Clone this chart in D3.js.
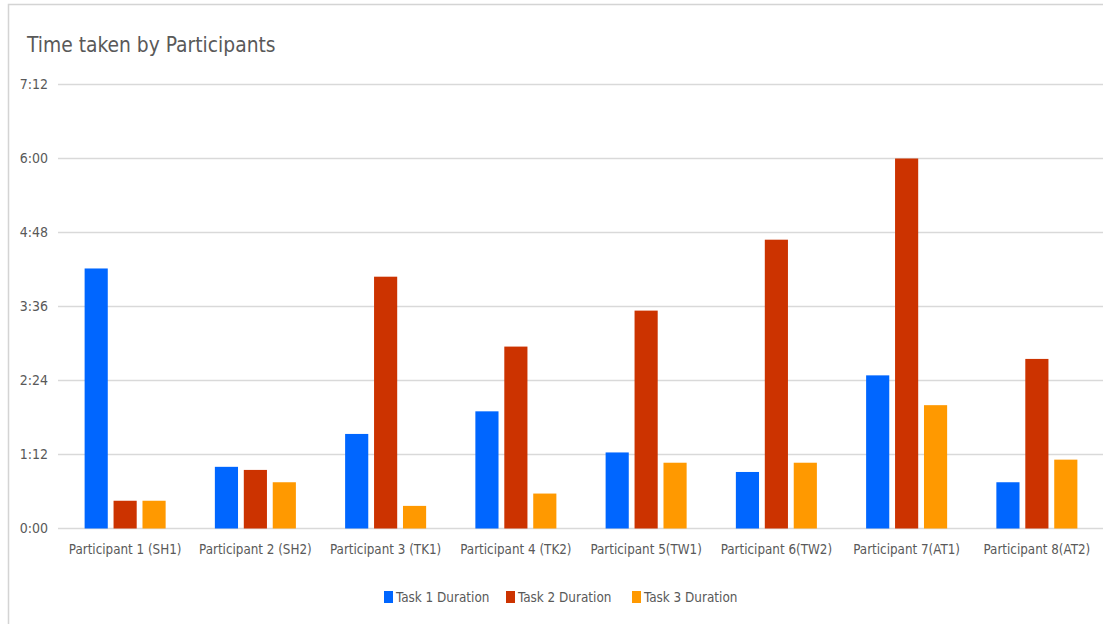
<!DOCTYPE html>
<html lang="en">
<head>
<meta charset="UTF-8" />
<title>Time taken by Participants</title>
<style>
  body { margin: 0; background: #fff; }
  svg { display: block; font-family: 'DejaVu Sans Condensed', 'DejaVu Sans', sans-serif; }
  .tick text { fill: #595959; }
  .grid line { stroke: #d9d9d9; stroke-width: 1.5; }
</style>
</head>
<body>
<svg id="chart" width="1103" height="624"></svg>
<script src="https://cdn.jsdelivr.net/npm/d3@7"></script>
<script>
// durations in seconds
const participants = ["Participant 1 (SH1)", "Participant 2 (SH2)", "Participant 3 (TK1)", "Participant 4 (TK2)",
  "Participant 5(TW1)", "Participant 6(TW2)", "Participant 7(AT1)", "Participant 8(AT2)"];
const tasks = ["Task 1 Duration", "Task 2 Duration", "Task 3 Duration"];
const task1 = [253, 60, 92, 114, 74, 55, 149, 45];
const task2 = [27, 57, 245, 177, 212, 281, 360, 165];
const task3 = [27, 45, 22, 34, 64, 64, 120, 67];
const yTicks = [0, 72, 144, 216, 288, 360, 432];
const colors = ["#0066ff", "#cc3300", "#ff9900"];

const series = [task1, task2, task3];
const data = participants.map((p, i) => ({ name: p, values: series.map(s => s[i]) }));

const svg = d3.select("#chart");
const W = 1103, H = 624;
const m = { left: 60, right: 1102, top: 84.5, bottom: 528.5 };

// chart frame (cut off on the right and bottom like the screenshot)
svg.append("rect")
  .attr("x", 8.5).attr("y", 4.5)
  .attr("width", W + 20).attr("height", H + 20)
  .attr("fill", "#fff").attr("stroke", "#d4d4d4").attr("stroke-width", 1.5);

const x0 = d3.scaleBand().domain(participants).range([m.left, m.right])
  .paddingInner(0.378).paddingOuter(0.189);
const x1 = d3.scaleBand().domain(d3.range(3)).range([0, x0.bandwidth()]).paddingInner(0.2);
const y = d3.scaleLinear().domain([0, 432]).range([m.bottom, m.top]);

const fmt = s => Math.floor(s / 60) + ":" + String(s % 60).padStart(2, "0");

// gridlines
svg.append("g").attr("class", "grid")
  .selectAll("line").data(yTicks).join("line")
  .attr("x1", 58).attr("x2", m.right + 2)
  .attr("y1", d => y(d)).attr("y2", d => y(d));

// y axis labels
const yAxis = svg.append("g")
  .attr("transform", `translate(${m.left - 12},0)`)
  .call(d3.axisLeft(y).tickValues(yTicks).tickFormat(fmt).tickSize(0).tickPadding(0));
yAxis.select(".domain").remove();
yAxis.selectAll("text").attr("font-size", 14).attr("font-family", "'DejaVu Sans Condensed', sans-serif");

// bars
const groups = svg.append("g").selectAll("g").data(data).join("g")
  .attr("transform", d => `translate(${x0(d.name)},0)`);
groups.selectAll("rect").data(d => d.values).join("rect")
  .attr("x", (d, i) => x1(i))
  .attr("width", x1.bandwidth())
  .attr("y", d => y(d))
  .attr("height", d => y(0) - y(d))
  .attr("fill", (d, i) => colors[i]);

// x axis labels
const xAxis = svg.append("g")
  .attr("transform", `translate(0,${m.bottom + 10})`)
  .call(d3.axisBottom(x0).tickSize(0).tickPadding(6));
xAxis.select(".domain").remove();
xAxis.selectAll("text").attr("font-size", 13.3).attr("font-family", "'DejaVu Sans Condensed', sans-serif");

// title
svg.append("text")
  .attr("x", 27).attr("y", 52)
  .attr("font-size", 20.8)
  .attr("fill", "#595959")
  .text("Time taken by Participants");

// legend
const legend = svg.append("g").attr("transform", "translate(384,591)");
const legendX = [0, 122, 248];
const item = legend.selectAll("g").data(tasks).join("g")
  .attr("transform", (d, i) => `translate(${legendX[i]},0)`);
item.append("rect").attr("width", 9).attr("height", 12).attr("fill", (d, i) => colors[i]);
item.append("text")
  .attr("x", 12).attr("y", 11)
  .attr("font-size", 13.4)
  .attr("fill", "#595959")
  .text(d => d);
</script>
</body>
</html>
